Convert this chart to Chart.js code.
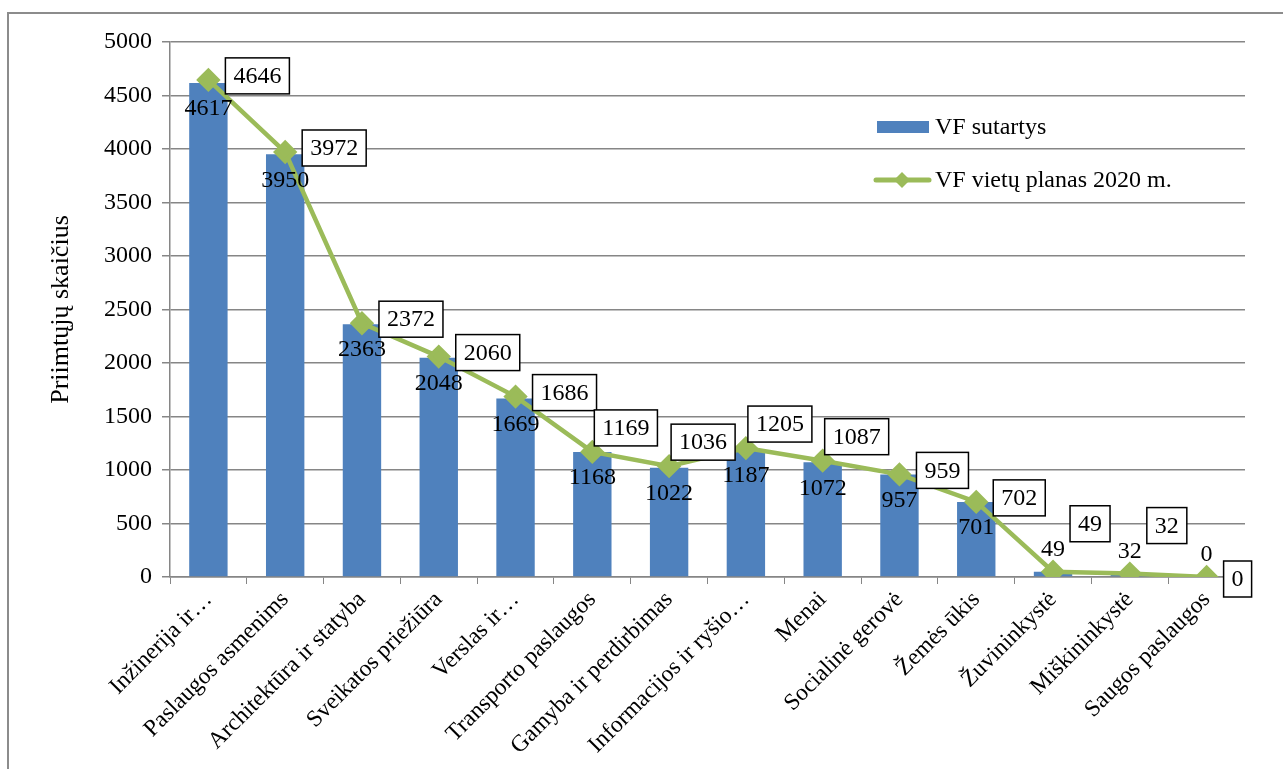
<!DOCTYPE html>
<html>
<head>
<meta charset="utf-8">
<script src="https://cdn.jsdelivr.net/npm/chart.js@4/dist/chart.umd.min.js"></script>
<style>
  html, body { margin: 0; padding: 0; background: #ffffff; }
  #wrap { position: relative; width: 1283px; height: 769px; }
</style>
</head>
<body>
<div id="wrap"><canvas id="chart"></canvas></div>
<script>
// ================= DATA =================
const categories = [
  "Inžinerija ir…", "Paslaugos asmenims", "Architektūra ir statyba", "Sveikatos priežiūra",
  "Verslas ir…", "Transporto paslaugos", "Gamyba ir perdirbimas", "Informacijos ir ryšio…",
  "Menai", "Socialinė gerovė", "Žemės ūkis", "Žuvininkystė", "Miškininkystė", "Saugos paslaugos"
];
const contracts = [4617, 3950, 2363, 2048, 1669, 1168, 1022, 1187, 1072, 957, 701, 49, 32, 0];
const plan2020 = [4646, 3972, 2372, 2060, 1686, 1169, 1036, 1205, 1087, 959, 702, 49, 32, 0];
const yTicks = [0, 500, 1000, 1500, 2000, 2500, 3000, 3500, 4000, 4500, 5000];

const barLabel = "VF sutartys";
const lineLabel = "VF vietų planas 2020 m.";
const yTitle = "Priimtųjų skaičius";

const FONT = "'Liberation Serif', 'Times New Roman', serif";
const BLUE = "#4F81BD";
const GREEN = "#9BBB59";
const GRID = "#868686";

// ================= PLUGINS =================
const framePlugin = {
  id: "frame",
  beforeDraw(chart) {
    const ctx = chart.ctx;
    ctx.save();
    ctx.strokeStyle = "#8c8c8c";
    ctx.lineWidth = 2;
    ctx.strokeRect(8, 13, 1400, 900);
    ctx.restore();
  }
};

const labelsPlugin = {
  id: "valueLabels",
  afterDatasetsDraw(chart) {
    const ctx = chart.ctx;
    const bars = chart.getDatasetMeta(0).data;
    const pts = chart.getDatasetMeta(1).data;
    const base = chart.scales.y.getPixelForValue(0);
    ctx.save();
    ctx.font = "24px " + FONT;
    ctx.textAlign = "center";
    ctx.textBaseline = "middle";

    // line values in boxes, to the right of the points
    pts.forEach((p, i) => {
      const txt = String(plan2020[i]);
      const w = ctx.measureText(txt).width + 16;
      const h = 36;
      const next = pts[i + 1];
      const flat = next && Math.abs(next.y - p.y) < 20 && plan2020[i] >= 100;
      let left = p.x + (flat ? 2 : 17);
      let cy = p.y - (flat ? 24 : 4);
      if (plan2020[i] < 100 && plan2020[i] > 0) cy = p.y - 48;
      if (plan2020[i] === 0) cy = p.y + 2;
      ctx.fillStyle = "#fff";
      ctx.fillRect(left, cy - h / 2, w, h);
      ctx.strokeStyle = "#000";
      ctx.lineWidth = 1.5;
      ctx.strokeRect(left, cy - h / 2, w, h);
      ctx.fillStyle = "#000";
      ctx.fillText(txt, left + w / 2, cy + 1);
    });

    // bar values (inside end, or above for tiny bars)
    ctx.fillStyle = "#000";
    bars.forEach((b, i) => {
      const hh = base - b.y;
      const y = hh > 40 ? b.y + 26 : b.y - 22;
      ctx.fillText(String(contracts[i]), b.x, y);
    });
    ctx.restore();
  }
};

const legendPlugin = {
  id: "innerLegend",
  afterDraw(chart) {
    const ctx = chart.ctx;
    ctx.save();
    // bars
    ctx.fillStyle = BLUE;
    ctx.fillRect(877, 121, 52, 12);
    // line with diamond
    ctx.strokeStyle = GREEN;
    ctx.lineWidth = 5;
    ctx.lineCap = "round";
    ctx.beginPath();
    ctx.moveTo(876, 180);
    ctx.lineTo(929, 180);
    ctx.stroke();
    ctx.fillStyle = GREEN;
    ctx.beginPath();
    ctx.moveTo(902, 172);
    ctx.lineTo(910, 180);
    ctx.lineTo(902, 188);
    ctx.lineTo(894, 180);
    ctx.closePath();
    ctx.fill();
    // text
    ctx.fillStyle = "#000";
    ctx.font = "24px " + FONT;
    ctx.textAlign = "left";
    ctx.textBaseline = "middle";
    ctx.fillText(barLabel, 935, 128);
    ctx.fillText(lineLabel, 935, 181);
    ctx.restore();
  }
};

// ================= CHART =================
const ctx = document.getElementById("chart").getContext("2d");

new Chart(ctx, {
  type: "bar",
  data: {
    labels: categories,
    datasets: [
      {
        type: "bar",
        label: barLabel,
        data: contracts,
        backgroundColor: BLUE,
        barPercentage: 0.5,
        categoryPercentage: 1,
        order: 2
      },
      {
        type: "line",
        label: lineLabel,
        data: plan2020,
        borderColor: GREEN,
        backgroundColor: GREEN,
        borderWidth: 4.5,
        pointStyle: "rectRot",
        pointRadius: 9,
        pointHoverRadius: 9,
        pointBackgroundColor: GREEN,
        pointBorderColor: GREEN,
        tension: 0,
        order: 1
      }
    ]
  },
  options: {
    responsive: true,
    maintainAspectRatio: false,
    animation: false,
    layout: { padding: { top: 42, left: 8, right: 38, bottom: 0 } },
    plugins: {
      legend: { display: false },
      tooltip: { enabled: false }
    },
    scales: {
      x: {
        grid: {
          display: true,
          drawOnChartArea: false,
          drawTicks: true,
          tickLength: 7,
          color: GRID,
          offset: true
        },
        border: { color: GRID, width: 1.5 },
        ticks: {
          color: "#000",
          font: { family: FONT, size: 23.5 },
          maxRotation: 45,
          minRotation: 45,
          autoSkip: false,
          padding: 2
        },
        afterFit(scale) { scale.height = 192; }
      },
      y: {
        min: 0,
        max: 5000,
        afterBuildTicks(scale) { scale.ticks = yTicks.map(v => ({ value: v })); },
        grid: { color: GRID, lineWidth: 1.5, tickLength: 8 },
        border: { color: GRID, width: 1.5 },
        ticks: {
          color: "#000",
          font: { family: FONT, size: 24 },
          padding: 10,
          callback: v => String(v)
        },
        title: {
          display: true,
          text: yTitle,
          color: "#000",
          font: { family: FONT, size: 26 },
          padding: { top: 38, bottom: 0 }
        },
        afterFit(scale) { scale.width = 162; }
      }
    }
  },
  plugins: [framePlugin, labelsPlugin, legendPlugin]
});
</script>
</body>
</html>
